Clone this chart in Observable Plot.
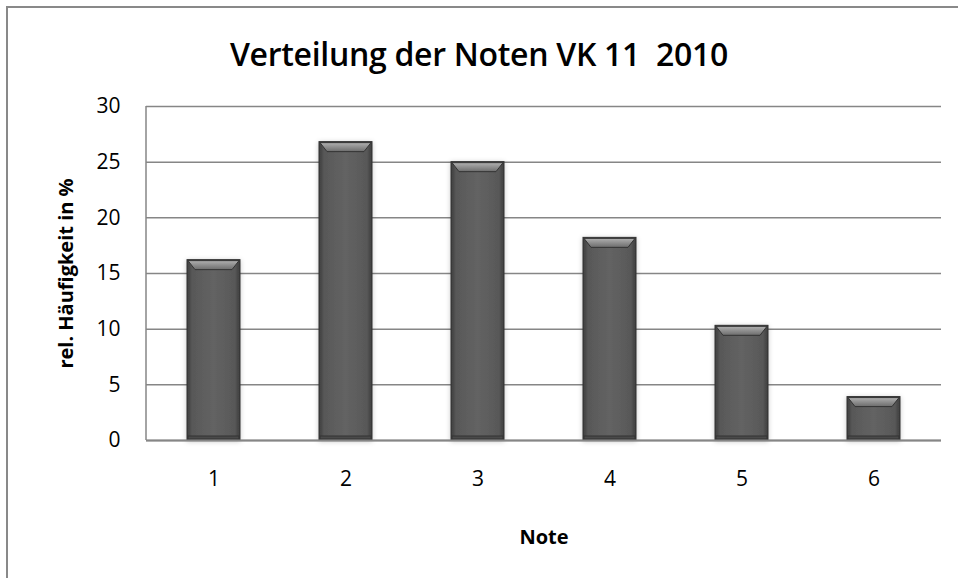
<!DOCTYPE html>
<html>
<head>
<meta charset="utf-8">
<script src="https://cdn.jsdelivr.net/npm/d3@7"></script>
<script src="https://cdn.jsdelivr.net/npm/@observablehq/plot@0.6"></script>
<style>
  html, body { margin: 0; padding: 0; width: 958px; height: 578px; overflow: hidden; background: #fff; }
  #frame { position: absolute; left: 6px; top: 6px; width: 1000px; height: 700px; border: 2px solid #898989; box-sizing: border-box; }
  #title { position: absolute; left: 0; top: 32px; width: 958px; text-align: center;
           font-family: "Open Sans", sans-serif; font-weight: 600; font-size: 32px; color: #000; letter-spacing: -0.3px; }
  #chart { position: absolute; left: 0; top: 0; }
</style>
</head>
<body>
<div id="frame"></div>
<div id="title"></div>
<div id="chart"></div>
<script>
const notes = ["1", "2", "3", "4", "5", "6"];
const values = [16.2, 26.8, 25.0, 18.2, 10.3, 3.9];
const yTicks = [0, 5, 10, 15, 20, 25, 30];
const titleText = "Verteilung der Noten VK 11\u00a0 2010";
const xLabel = "Note";
const yLabel = "rel. Häufigkeit in %";

document.getElementById("title").textContent = titleText;

const data = notes.map((n, i) => ({note: n, value: values[i]}));
const font = '"Open Sans", sans-serif';

const defs = () => {
  const d = d3.create("svg:defs");
  const g = d.append("linearGradient").attr("id", "barGrad").attr("x1", 0).attr("x2", 1).attr("y1", 0).attr("y2", 0);
  g.append("stop").attr("offset", "0%").attr("stop-color", "#3e3e3e");
  g.append("stop").attr("offset", "10%").attr("stop-color", "#585858");
  g.append("stop").attr("offset", "50%").attr("stop-color", "#636363");
  g.append("stop").attr("offset", "90%").attr("stop-color", "#585858");
  g.append("stop").attr("offset", "100%").attr("stop-color", "#3e3e3e");
  const b = d.append("linearGradient").attr("id", "bevelGrad").attr("x1", 0).attr("x2", 0).attr("y1", 0).attr("y2", 1);
  b.append("stop").attr("offset", "0%").attr("stop-color", "#b0b0b0");
  b.append("stop").attr("offset", "100%").attr("stop-color", "#6c6c6c");
  const f = d.append("filter").attr("id", "shadow").attr("x", "-20%").attr("y", "-20%").attr("width", "140%").attr("height", "140%");
  f.append("feDropShadow").attr("dx", 0).attr("dy", 1).attr("stdDeviation", 2.5).attr("flood-color", "#000").attr("flood-opacity", 0.22);
  return d.node();
};

const leftLine = (index, scales, values, dims) => {
  const l = d3.create("svg:line")
    .attr("x1", dims.marginLeft).attr("x2", dims.marginLeft)
    .attr("y1", dims.marginTop).attr("y2", dims.height - dims.marginBottom)
    .attr("stroke", "#868686").attr("stroke-width", 1.5);
  return l.node();
};

const plot = Plot.plot({
  width: 958,
  height: 578,
  marginLeft: 146,
  marginRight: 17,
  marginTop: 106,
  marginBottom: 138,
  style: {fontFamily: font, fontSize: "21px", color: "#000", background: "transparent", overflow: "visible"},
  x: {domain: notes, paddingInner: 0.6, paddingOuter: 0.3, tickSize: 0, tickPadding: 31,
      label: xLabel, labelAnchor: "center", labelOffset: 103, labelArrow: "none"},
  y: {domain: [0, 30], ticks: yTicks, tickSize: 0, tickPadding: 26,
      label: yLabel, labelAnchor: "center", labelOffset: 88, labelArrow: "none"},
  marks: [
    defs,
    Plot.gridY(yTicks, {stroke: "#868686", strokeOpacity: 1, strokeWidth: 1.5}),
    leftLine,
    Plot.barY(data, {x: "note", y: "value", fill: "url(#barGrad)", stroke: "#333", strokeWidth: 1, className: "mainbars"}),
    Plot.ruleY([0], {stroke: "#868686", strokeWidth: 2})
  ]
});

document.getElementById("chart").appendChild(plot);
const svg = d3.select(plot);
svg.selectAll("g.mainbars rect").each(function() {
  const r = d3.select(this);
  r.attr("filter", "url(#shadow)");
  const x = +r.attr("x"), y = +r.attr("y"), w = +r.attr("width"), h = +r.attr("height");
  const g = d3.select(this.parentNode);
  g.append("path")
    .attr("d", `M${x + 1},${y + 1}L${x + w - 1},${y + 1}L${x + w - 8},${y + 10}L${x + 8},${y + 10}Z`)
    .attr("fill", "url(#bevelGrad)");
  g.append("rect").attr("x", x + 1).attr("y", y + h - 4).attr("width", w - 2).attr("height", 3)
    .attr("fill", "#4a4a4a");
});
// axis labels: bold, no arrows
svg.selectAll("g[aria-label='y-axis label'] text, g[aria-label='x-axis label'] text")
  .attr("font-weight", "bold").attr("font-size", "20px")
  .each(function() { this.textContent = this.textContent.replace(/\s*[↑↓←→]\s*/g, "").trim(); });
</script>
</body>
</html>
